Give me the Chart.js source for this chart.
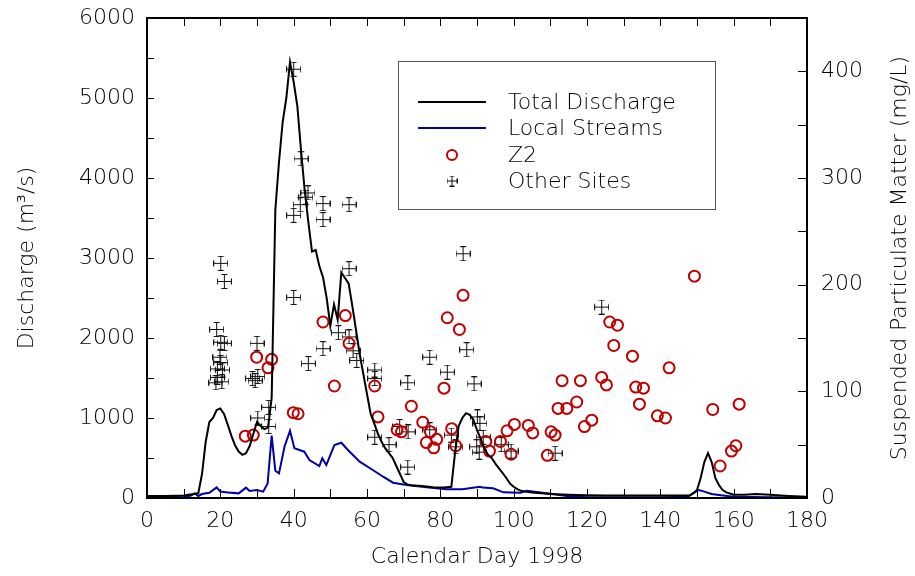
<!DOCTYPE html>
<html>
<head>
<meta charset="utf-8">
<script src="https://cdn.jsdelivr.net/npm/chart.js@4"></script>
<style>
  body { margin: 0; background: #fff; }
</style>
</head>
<body>
<canvas id="chart" width="915" height="576"></canvas>
<script>
// total discharge (m3/s) by calendar day
const totalDays = [0, 5, 10, 14, 15, 16, 17, 18, 19, 20, 21, 22, 23, 24, 25, 26, 27, 28, 29, 30, 31, 32, 33, 34, 35, 36, 37, 38, 39, 40, 41, 42, 43, 44, 45, 46, 47, 48, 49, 50, 51, 52, 53, 54, 55, 56, 57, 58, 59, 60, 61, 62, 63, 64, 65, 66, 67, 68, 69, 70, 71, 72, 75, 78, 81, 83, 84, 85, 86, 87, 88, 89, 90, 91, 92, 93, 94, 95, 96, 97, 98, 99, 100, 101, 102, 103, 105, 110, 115, 120, 125, 130, 135, 140, 145, 148, 149, 150, 151, 152, 153, 154, 155, 156, 157, 158, 160, 163, 166, 170, 175, 180];
const totalQ = [25, 25, 30, 60, 300, 700, 950, 1000, 1100, 1120, 1050, 920, 780, 660, 580, 540, 560, 650, 800, 950, 900, 860, 880, 1250, 3600, 4200, 4700, 5000, 5450, 5200, 4900, 4350, 3850, 3450, 3080, 3100, 2900, 2760, 2500, 2150, 2420, 2230, 2820, 2750, 2680, 2400, 2100, 1800, 1550, 1300, 1050, 930, 800, 700, 620, 560, 500, 400, 300, 200, 170, 160, 150, 135, 130, 140, 560, 900, 1000, 1060, 1040, 980, 850, 740, 620, 540, 500, 430, 370, 310, 250, 180, 140, 110, 90, 80, 70, 50, 40, 35, 30, 30, 30, 30, 30, 30, 60, 100, 250, 450, 560, 450, 250, 160, 100, 70, 40, 40, 50, 40, 25, 15];

// local streams (m3/s)
const localDays = [0, 5, 10, 12, 13, 14, 15, 17, 19, 20, 22, 25, 27, 28, 30, 31.7, 32.9, 34, 35, 36, 37.5, 39, 40.2, 42.9, 44.3, 47, 47.8, 48.9, 51.1, 53, 54.8, 58, 61.6, 64.4, 67.1, 70.8, 76.2, 81.7, 86, 90.8, 91.5, 94.4, 97.2, 101.8, 103.6, 109, 114.5, 120, 130, 140, 147, 148, 149, 150.5, 152, 154, 156.5, 160, 170, 180];
const localQ = [15, 15, 10, 30, 58, 25, 50, 66, 133, 80, 70, 58, 129, 87, 100, 79, 183, 779, 341, 308, 641, 841, 621, 579, 475, 400, 496, 412, 662, 691, 600, 454, 350, 266, 191, 162, 133, 108, 110, 141, 130, 121, 71, 66, 91, 58, 25, 10, 10, 10, 15, 30, 60, 100, 80, 50, 35, 15, 10, 5];

// Z2 suspended particulate matter (mg/L)
const z2Days = [26.8, 29.0, 29.9, 33.0, 34.0, 39.9, 41.2, 48.0, 51.1, 54.1, 55.1, 62.1, 63.0, 68.2, 69.4, 72.1, 75.2, 76.2, 77.3, 78.2, 79.0, 81.0, 81.9, 85.2, 86.2, 83.1, 84.2, 92.4, 93.4, 96.4, 98.2, 99.3, 100.2, 104.0, 105.2, 109.2, 110.2, 111.3, 112.1, 113.2, 114.5, 117.2, 118.2, 119.3, 121.3, 124.0, 125.3, 126.2, 127.3, 128.3, 132.4, 133.3, 134.3, 135.4, 139.2, 141.4, 142.4, 149.3, 154.3, 156.3, 159.4, 160.6, 161.5];
const z2Spm = [58, 59, 132, 122, 130, 80, 79, 165, 105, 171, 145, 105, 76, 64, 62, 86, 71, 52, 62, 47, 55, 103, 169, 158, 190, 65, 49, 53, 44, 53, 63, 41, 69, 68, 61, 40, 62, 59, 84, 110, 84, 90, 110, 67, 73, 113, 106, 165, 143, 162, 133, 104, 88, 103, 77, 75, 122, 208, 83, 30, 44, 49, 88];

// other sites (mg/L)
const otherDays = [20.1, 21.1, 19.0, 20.1, 21.1, 19.9, 20.1, 19.2, 20.6, 19.2, 18.8, 20.4, 30.0, 28.8, 30.2, 29.5, 33.2, 30.2, 33.2, 40.0, 42.0, 43.9, 43.3, 41.8, 40.0, 48.0, 48.0, 55.1, 55.1, 40.0, 44.0, 48.0, 52.2, 55.1, 56.2, 57.2, 62.1, 62.1, 62.1, 66.0, 71.1, 71.1, 77.1, 81.9, 68.9, 71.2, 77.1, 83.0, 84.2, 86.2, 87.2, 89.2, 90.1, 90.8, 91.7, 89.9, 90.6, 96.6, 99.3, 111.3, 124.0];
const otherSpm = [220, 203, 158, 146, 145, 132, 127, 121, 120, 113, 108, 109, 145, 112, 114, 110, 85, 75, 67, 402, 318, 286, 282, 275, 265, 276, 261, 275, 215, 188, 126, 140, 155, 151, 138, 129, 120, 112, 57, 50, 108, 29, 132, 118, 67, 62, 64, 59, 48, 229, 139, 107, 76, 70, 57, 48, 43, 50, 44, 42, 179];

const toXY = (xs, ys) => xs.map((x, i) => ({ x: x, y: ys[i] }));

const FONT = '"DejaVu Sans", sans-serif';
Chart.defaults.font.family = FONT;
Chart.defaults.font.size = 22;
Chart.defaults.font.weight = '200';
Chart.defaults.color = '#000';

// error-bar cross marker
function makeCross(size, cap) {
  const c = document.createElement('canvas');
  c.width = size; c.height = size;
  const g = c.getContext('2d');
  const m = size / 2;
  g.strokeStyle = '#111';
  g.lineWidth = 1;
  g.beginPath();
  g.moveTo(0, m); g.lineTo(size, m);
  g.moveTo(m, 0); g.lineTo(m, size);
  g.moveTo(0.5, m - cap); g.lineTo(0.5, m + cap);
  g.moveTo(size - 0.5, m - cap); g.lineTo(size - 0.5, m + cap);
  g.moveTo(m - cap, 0.5); g.lineTo(m + cap, 0.5);
  g.moveTo(m - cap, size - 0.5); g.lineTo(m + cap, size - 0.5);
  g.stroke();
  return c;
}
const cross = makeCross(15, 3);
const smallCross = makeCross(11, 2.5);

const frame = {
  id: 'frame',
  afterDatasetsDraw(chart) {
    const ctx = chart.ctx;
    const a = chart.chartArea;
    const x = chart.scales.x, y = chart.scales.y, y2 = chart.scales.y2;
    ctx.save();
    ctx.strokeStyle = '#000';
    ctx.lineWidth = 1;
    ctx.beginPath();
    x.ticks.forEach(t => {
      const p = Math.round(x.getPixelForValue(t.value)) + 0.5;
      ctx.moveTo(p, a.bottom); ctx.lineTo(p, a.bottom - 9);
      ctx.moveTo(p, a.top); ctx.lineTo(p, a.top + 8);
    });
    y.ticks.forEach(t => {
      const p = Math.round(y.getPixelForValue(t.value)) + 0.5;
      ctx.moveTo(a.left, p); ctx.lineTo(a.left + 7, p);
    });
    y2.ticks.forEach(t => {
      const p = Math.round(y2.getPixelForValue(t.value)) + 0.5;
      ctx.moveTo(a.right, p); ctx.lineTo(a.right - 9, p);
    });
    ctx.stroke();
    ctx.lineWidth = 2;
    ctx.strokeRect(a.left, a.top, a.right - a.left, a.bottom - a.top);

    // right axis title, reading bottom to top
    ctx.font = '200 22px ' + FONT;
    ctx.fillStyle = '#000';
    ctx.translate(900, (a.top + a.bottom) / 2);
    ctx.rotate(-Math.PI / 2);
    ctx.textAlign = 'center';
    ctx.textBaseline = 'middle';
    ctx.fillText('Suspended Particulate Matter (mg/L)', 0, 0);
    ctx.restore();

    // legend box
    ctx.save();
    ctx.fillStyle = '#fff';
    ctx.fillRect(398, 61, 318, 149);
    ctx.strokeStyle = '#555';
    ctx.lineWidth = 1;
    ctx.strokeRect(398.5, 61.5, 317, 148);
    const items = chart.data.datasets;
    const rows = [102, 128, 155, 181];
    ctx.font = '200 22px ' + FONT;
    ctx.fillStyle = '#000';
    ctx.textAlign = 'left';
    ctx.textBaseline = 'middle';
    items.forEach((ds, i) => {
      const ry = rows[i];
      if (ds.showLine) {
        ctx.strokeStyle = ds.borderColor;
        ctx.lineWidth = 2;
        ctx.beginPath();
        ctx.moveTo(418, ry); ctx.lineTo(486, ry);
        ctx.stroke();
      } else if (ds.pointStyle === 'circle') {
        ctx.strokeStyle = ds.borderColor;
        ctx.lineWidth = 2;
        ctx.beginPath();
        ctx.arc(452, ry, 5, 0, Math.PI * 2);
        ctx.stroke();
      } else {
        ctx.drawImage(smallCross, 452 - 5.5, ry - 5.5);
      }
      ctx.fillText(ds.label, 508, ry + 1);
    });
    ctx.restore();
  }
};

// fixed axis sizes so the plot frame sits where the original has it
const fixV = w => s => { s.width = w; s.paddingTop = 0; s.paddingBottom = 0; };
const fixH = h => s => { s.height = h; s.paddingLeft = 0; s.paddingRight = 0; };

new Chart(document.getElementById('chart'), {
  type: 'scatter',
  data: {
    datasets: [
      {
        label: 'Total Discharge',
        data: toXY(totalDays, totalQ),
        showLine: true,
        borderColor: '#000',
        borderWidth: 2,
        pointRadius: 0,
        yAxisID: 'y'
      },
      {
        label: 'Local Streams',
        data: toXY(localDays, localQ),
        showLine: true,
        borderColor: '#0000a8',
        borderWidth: 2,
        pointRadius: 0,
        yAxisID: 'y'
      },
      {
        label: 'Z2',
        data: toXY(z2Days, z2Spm),
        pointStyle: 'circle',
        pointRadius: 5.5,
        borderWidth: 2,
        borderColor: '#c00000',
        backgroundColor: 'rgba(0,0,0,0)',
        yAxisID: 'y2'
      },
      {
        label: 'Other Sites',
        data: toXY(otherDays, otherSpm),
        pointStyle: cross,
        pointRadius: 7,
        yAxisID: 'y2'
      }
    ]
  },
  options: {
    responsive: false,
    animation: false,
    devicePixelRatio: 1,
    layout: { padding: { top: 18, left: 0, right: 0, bottom: 0 } },
    plugins: { legend: { display: false }, tooltip: { enabled: false } },
    scales: {
      x: {
        type: 'linear',
        min: 0, max: 180,
        grid: { display: false, drawTicks: false },
        border: { display: false },
        ticks: {
          stepSize: 10, autoSkip: false, maxRotation: 0, padding: 10,
          callback: v => (v % 20 === 0 ? v : '')
        },
        title: { display: true, text: 'Calendar Day 1998', padding: { top: 0, bottom: 6 } },
        afterFit: fixH(78)
      },
      y: {
        position: 'left',
        min: 0, max: 6000,
        grid: { display: false, drawTicks: false },
        border: { display: false },
        ticks: {
          stepSize: 500, autoSkip: false, padding: 12,
          callback: v => (v % 1000 === 0 ? v : '')
        },
        title: { display: true, text: 'Discharge (m³/s)', padding: { top: 14, bottom: 0 } },
        afterFit: fixV(147)
      },
      y2: {
        position: 'right',
        min: 0, max: 450,
        grid: { display: false, drawTicks: false },
        border: { display: false },
        ticks: {
          stepSize: 50, autoSkip: false, padding: 14,
          callback: v => (v % 100 === 0 ? v : '')
        },
        afterFit: fixV(108)
      }
    }
  },
  plugins: [frame]
});
</script>
</body>
</html>
